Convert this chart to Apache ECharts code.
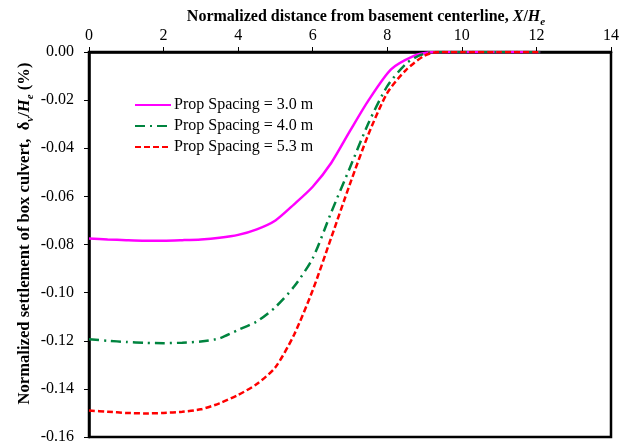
<!DOCTYPE html>
<html>
<head>
<meta charset="utf-8">
<script src="https://cdn.jsdelivr.net/npm/echarts@6/dist/echarts.min.js"></script>
<style>
  html, body { margin: 0; padding: 0; background: #fff; }
  #chart { width: 628px; height: 448px; }
</style>
</head>
<body>
<div id="chart"></div>
<script>
// Normalized distance X/He and normalized settlement (%) for each prop spacing
const seriesNames = ['Prop Spacing = 3.0 m', 'Prop Spacing = 4.0 m', 'Prop Spacing = 5.3 m'];

const x30 = [0, 0.5, 1, 1.5, 2, 2.5, 3, 3.5, 4, 4.5, 5, 5.5, 6, 6.5, 7, 7.5, 8.1, 8.7, 9.1, 9.5, 10, 11, 12.1];
const y30 = [-0.0775, -0.0779, -0.0782, -0.0784, -0.0784, -0.0782, -0.0779, -0.0772, -0.0760, -0.0737, -0.0700, -0.0633, -0.0560, -0.0460, -0.0328, -0.0200, -0.0072, -0.0017, -0.0002, 0, 0, 0, 0];

const x40 = [0, 0.5, 1, 1.5, 2, 2.5, 3, 3.5, 4, 4.5, 5, 5.5, 6, 6.5, 7, 7.5, 8, 8.5, 8.9, 9.3, 10, 11, 12.1];
const y40 = [-0.1194, -0.1200, -0.1205, -0.1209, -0.1210, -0.1208, -0.1203, -0.1190, -0.1155, -0.1120, -0.1060, -0.0975, -0.0857, -0.0665, -0.0480, -0.0294, -0.0142, -0.0049, -0.0012, 0, 0, 0, 0];

const x53 = [0, 0.5, 1, 1.5, 2, 2.5, 3, 3.5, 4, 4.5, 5, 5.5, 6, 6.5, 7, 7.5, 8, 8.5, 9, 9.4, 10, 11, 12.1];
const y53 = [-0.1490, -0.1495, -0.1500, -0.1502, -0.1500, -0.1495, -0.1485, -0.1460, -0.1425, -0.1380, -0.1310, -0.1175, -0.0990, -0.0770, -0.0548, -0.0340, -0.0170, -0.0075, -0.0015, 0, 0, 0, 0];

const xTicks = [0, 2, 4, 6, 8, 10, 12, 14];
const yTicks = [-0.16, -0.14, -0.12, -0.10, -0.08, -0.06, -0.04, -0.02, 0.00];

const pairs = (xs, ys) => xs.map((x, i) => [x, ys[i]]);
const serif = '"Liberation Serif", "Times New Roman", serif';

const chart = echarts.init(document.getElementById('chart'));

const axisCommon = {
  axisLine: { show: true, onZero: false, lineStyle: { color: '#000', width: 2.5 } },
  axisTick: { show: true, inside: false, length: 5, lineStyle: { color: '#000', width: 1 } },
  splitLine: { show: false },
  axisLabel: { color: '#000', fontFamily: serif, fontSize: 16 }
};

// rich styles for bold titles with italic symbols and subscripts
const makeRich = (size) => ({
  b: { fontFamily: serif, fontSize: size, fontWeight: 'bold', color: '#000', lineHeight: size + 3, verticalAlign: 'bottom' },
  i: { fontFamily: serif, fontSize: size, fontWeight: 'bold', fontStyle: 'italic', color: '#000', lineHeight: size + 3, verticalAlign: 'bottom' },
  s: { fontFamily: serif, fontSize: Math.round(size * 0.68), fontWeight: 'bold', fontStyle: 'italic', color: '#000', lineHeight: 11, verticalAlign: 'bottom', padding: [0, 0, -3, 0] }
});

const lineSeries = (name, data, color, type) => ({
  name: name,
  type: 'line',
  data: data,
  smooth: 0.25,
  symbol: 'none',
  showSymbol: false,
  lineStyle: { color: color, width: 2.5, type: type },
  itemStyle: { color: color },
  z: 3
});

chart.setOption({
  animation: false,
  backgroundColor: '#fff',
  grid: {
    left: 89, right: 17, top: 52, bottom: 11,
    containLabel: false,
    outerBoundsMode: 'none',
    show: true, borderColor: '#000', borderWidth: 2.5, backgroundColor: 'transparent'
  },
  legend: {
    orient: 'vertical',
    left: 129, top: 92,
    itemWidth: 36, itemHeight: 10, itemGap: 5,
    itemStyle: { opacity: 0 },
    textStyle: { color: '#000', fontFamily: serif, fontSize: 16, padding: [0, 0, 0, -2] },
    data: seriesNames
  },
  xAxis: Object.assign({}, axisCommon, {
    type: 'value',
    position: 'top',
    min: xTicks[0], max: xTicks[xTicks.length - 1], interval: 2,
    axisLabel: Object.assign({}, axisCommon.axisLabel, { margin: 8 }),
    name: '{b|Normalized distance from basement centerline, }{i|X}{b|/}{i|H}{s|e}',
    nameLocation: 'middle',
    nameGap: 27,
    nameMoveOverlap: false,
    nameTextStyle: { rich: makeRich(16), padding: [0, 0, 0, 32] }
  }),
  yAxis: Object.assign({}, axisCommon, {
    type: 'value',
    min: yTicks[0], max: yTicks[yTicks.length - 1], interval: 0.02,
    axisLabel: Object.assign({}, axisCommon.axisLabel, {
      margin: 15,
      formatter: v => (Math.abs(v) < 1e-9 ? 0 : v).toFixed(2)
    }),
    name: '{b|Normalized settlement of box culvert,  δ}{s|v}{b|/}{i|H}{s|e}{b| (%)}',
    nameLocation: 'middle',
    nameRotate: 90,
    nameGap: 56,
    nameMoveOverlap: false,
    nameTextStyle: { rich: makeRich(16.6), padding: [0, 0, 0, 22] }
  }),
  series: [
    lineSeries(seriesNames[0], pairs(x30, y30), '#ff00ff', 'solid'),
    lineSeries(seriesNames[1], pairs(x40, y40), '#00843f', [10, 5, 2, 5]),
    lineSeries(seriesNames[2], pairs(x53, y53), '#ff0000', [6, 3])
  ]
});
</script>
</body>
</html>
